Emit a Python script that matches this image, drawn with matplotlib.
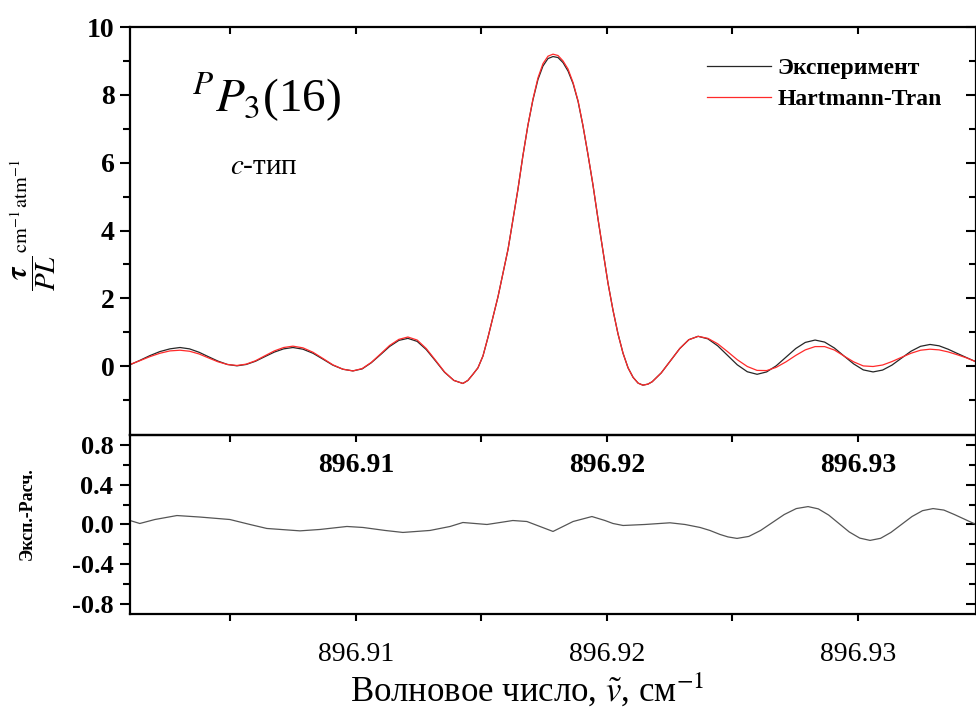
import numpy as np
import matplotlib
matplotlib.use("Agg")
import matplotlib.pyplot as plt
from matplotlib.ticker import MultipleLocator, FixedLocator, FormatStrFormatter

plt.rcParams['font.family'] = ['Liberation Serif', 'DejaVu Serif']
plt.rcParams['mathtext.fontset'] = 'stix'

# wavenumber grid (cm-1) for the two spectra
nu = [896.90100, 896.90139, 896.90179, 896.90219, 896.90259, 896.90299, 896.90337,
      896.90375, 896.90412, 896.90450, 896.90488, 896.90526, 896.90563, 896.90600,
      896.90637, 896.90675, 896.90712, 896.90749, 896.90789, 896.90829, 896.90869,
      896.90908, 896.90948, 896.90988, 896.91025, 896.91061, 896.91098, 896.91134,
      896.91171, 896.91207, 896.91244, 896.91280, 896.91317, 896.91353, 896.91390,
      896.91426,
      896.91446, 896.91466, 896.91486, 896.91506, 896.91526, 896.91546, 896.91566,
      896.91586, 896.91606, 896.91625, 896.91645, 896.91665, 896.91685, 896.91705,
      896.91725, 896.91745, 896.91765, 896.91785, 896.91805, 896.91825, 896.91845,
      896.91865, 896.91885, 896.91904, 896.91924, 896.91944, 896.91964, 896.91984,
      896.92004, 896.92024, 896.92044, 896.92064, 896.92084, 896.92104, 896.92124,
      896.92143, 896.92163,
      896.92180, 896.92216, 896.92253, 896.92290, 896.92326, 896.92363, 896.92402,
      896.92441, 896.92480, 896.92519, 896.92559, 896.92598, 896.92636, 896.92674,
      896.92713, 896.92752, 896.92790, 896.92829, 896.92867, 896.92906, 896.92944,
      896.92983, 896.93021, 896.93060, 896.93098, 896.93135, 896.93173, 896.93211,
      896.93249, 896.93287, 896.93323, 896.93359, 896.93394, 896.93430, 896.93470]

experiment = [0.04, 0.17, 0.31, 0.43, 0.51, 0.55, 0.51,
              0.41, 0.28, 0.15, 0.05, 0.01, 0.05, 0.145,
              0.28, 0.415, 0.51, 0.55, 0.50, 0.38, 0.205,
              0.03, -0.09, -0.14, -0.08, 0.10, 0.34, 0.58,
              0.76, 0.82, 0.73, 0.49, 0.155, -0.18, -0.42,
              -0.51,
              -0.42, -0.24, -0.05, 0.30, 0.85, 1.45, 2.05,
              2.75, 3.45, 4.30, 5.20, 6.20, 7.10, 7.85,
              8.45, 8.85, 9.07, 9.13, 9.10, 8.95, 8.70,
              8.33, 7.80, 7.10, 6.25, 5.35, 4.35, 3.40,
              2.45, 1.65, 0.95, 0.38, -0.05, -0.33, -0.50,
              -0.56, -0.53,
              -0.46, -0.20, 0.16, 0.52, 0.78, 0.88, 0.805,
              0.60, 0.32, 0.04, -0.165, -0.24, -0.17, 0.01,
              0.265, 0.52, 0.70, 0.77, 0.71, 0.535, 0.30,
              0.065, -0.11, -0.17, -0.115, 0.03, 0.235, 0.44,
              0.585, 0.64, 0.60, 0.50, 0.38, 0.26, 0.13]

hartmann_tran = [0.05, 0.16, 0.28, 0.38, 0.45, 0.47, 0.44,
                 0.36, 0.245, 0.13, 0.05, 0.02, 0.06, 0.16,
                 0.305, 0.45, 0.55, 0.59, 0.54, 0.41, 0.225,
                 0.04, -0.09, -0.14, -0.07, 0.11, 0.36, 0.61,
                 0.79, 0.86, 0.77, 0.52, 0.175, -0.17, -0.42,
                 -0.51,
                 -0.42, -0.24, -0.05, 0.30, 0.85, 1.45, 2.05,
                 2.75, 3.45, 4.30, 5.20, 6.20, 7.10, 7.87,
                 8.50, 8.92, 9.14, 9.20, 9.16, 9.00, 8.76,
                 8.36, 7.82, 7.11, 6.26, 5.36, 4.36, 3.40,
                 2.45, 1.65, 0.95, 0.38, -0.05, -0.33, -0.50,
                 -0.56, -0.53,
                 -0.46, -0.20, 0.16, 0.52, 0.78, 0.88, 0.82,
                 0.66, 0.43, 0.19, -0.01, -0.125, -0.13, -0.035,
                 0.127, 0.317, 0.48, 0.577, 0.577, 0.475, 0.30,
                 0.126, 0.007, -0.01, 0.034, 0.135, 0.26, 0.38,
                 0.47, 0.50, 0.48, 0.42, 0.34, 0.25, 0.13]

# residual (experiment - calculation)
nu_res = [896.90100, 896.90139, 896.90199, 896.90287, 896.90378, 896.90498, 896.90578,
          896.90645, 896.90777, 896.90857, 896.90964, 896.91028, 896.91116, 896.91187,
          896.91295, 896.91375, 896.91426, 896.91522, 896.91574, 896.91625, 896.91681,
          896.91733, 896.91785, 896.91825, 896.91865, 896.91940, 896.91992, 896.92024,
          896.92064, 896.92151, 896.92251, 896.92311, 896.92371, 896.92410, 896.92450,
          896.92482, 896.92518, 896.92565, 896.92612, 896.92659, 896.92706, 896.92754,
          896.92801, 896.92842, 896.92883, 896.92924, 896.92965, 896.93007, 896.93048,
          896.93090, 896.93131, 896.93173, 896.93215, 896.93257, 896.93299, 896.93342,
          896.93384, 896.93427, 896.93470]
residual = [0.04, 0.01, 0.05, 0.09, 0.075, 0.05, 0.00,
            -0.04, -0.064, -0.05, -0.02, -0.03, -0.06, -0.08,
            -0.06, -0.02, 0.02, 0.00, 0.02, 0.04, 0.03,
            -0.02, -0.07, -0.02, 0.03, 0.08, 0.04, 0.01,
            -0.01, 0.00, 0.017, 0.00, -0.03, -0.06, -0.10,
            -0.125, -0.14, -0.12, -0.06, 0.02, 0.10, 0.16,
            0.18, 0.157, 0.095, 0.01, -0.075, -0.137, -0.16,
            -0.139, -0.08, 0.00, 0.08, 0.139, 0.16, 0.145,
            0.10, 0.05, 0.00]

legend_labels = ['Эксперимент', 'Hartmann-Tran']
y_major = [0, 2, 4, 6, 8, 10]
y_minor = [-1, 1, 3, 5, 7, 9]

fig = plt.figure(figsize=(9.76, 7.15), dpi=100)
ax1 = fig.add_axes([0.1332, 0.3916, 0.8668, 0.5706])
ax2 = fig.add_axes([0.1332, 0.1413, 0.8668, 0.2503])
ax2.patch.set_alpha(0)

ax1.plot(nu, experiment, color='#262626', lw=0.9, label=legend_labels[0])
ax1.plot(nu, hartmann_tran, color='#ff2a2a', lw=0.9, label=legend_labels[1])
ax2.plot(nu_res, residual, color='#555555', lw=0.9)

for ax in (ax1, ax2):
    ax.set_xlim(896.901, 896.9347)
    ax.xaxis.set_major_locator(MultipleLocator(0.01))
    ax.xaxis.set_minor_locator(MultipleLocator(0.005))
    ax.xaxis.set_major_formatter(FormatStrFormatter('%.2f'))
    for s in ax.spines.values():
        s.set_linewidth(1.6)

ax1.set_ylim(-2.03, 10)
ax1.yaxis.set_major_locator(FixedLocator(y_major))
ax1.yaxis.set_minor_locator(FixedLocator(y_minor))
ax1.tick_params(axis='y', which='both', direction='out', left=True, right=True,
                labelright=False, labelsize=20, width=1.5, pad=4)
ax1.tick_params(axis='y', which='major', length=7)
ax1.tick_params(axis='y', which='minor', length=5)
ax1.tick_params(axis='x', which='both', direction='out', bottom=True, top=True,
                labeltop=False, labelsize=20, width=1.5, length=5, pad=8)
for lab in ax1.get_xticklabels() + ax1.get_yticklabels():
    lab.set_fontweight('bold')
# top and right ticks point inward
for t in ax1.xaxis.get_major_ticks() + ax1.xaxis.get_minor_ticks():
    t.tick2line.set_marker(3)
for t in ax1.yaxis.get_major_ticks() + ax1.yaxis.get_minor_ticks():
    t.tick2line.set_marker(0)

ax2.set_ylim(-0.9, 0.9)
ax2.yaxis.set_major_locator(MultipleLocator(0.4))
ax2.yaxis.set_minor_locator(MultipleLocator(0.2))
ax2.yaxis.set_major_formatter(FormatStrFormatter('%.1f'))
ax2.tick_params(axis='y', which='both', direction='out', right=True, labelright=False,
                labelsize=19, width=1.5, pad=5)
ax2.tick_params(axis='y', which='major', length=7)
ax2.tick_params(axis='y', which='minor', length=5)
ax2.tick_params(axis='x', which='both', direction='out', labelsize=20,
                width=1.5, length=5, pad=15)
for t in ax2.yaxis.get_major_ticks() + ax2.yaxis.get_minor_ticks():
    t.tick2line.set_marker(0)
for lab in ax2.get_yticklabels():
    lab.set_fontweight('bold')

ax1.set_ylabel(r'$\dfrac{\boldsymbol{\tau}}{PL}$' + r'$^{\mathrm{cm^{-1}\,atm^{-1}}}$',
               fontsize=21)
ax1.yaxis.set_label_coords(-0.085, 0.515)
ax2.set_ylabel('Эксп.-Расч.', fontsize=13, fontweight='bold')
ax2.yaxis.set_label_coords(-0.111, 0.56)
ax2.set_xlabel(r'Волновое число, $\tilde{v}$, см$^{-1}$', fontsize=25)
ax2.xaxis.set_label_coords(0.469, -0.43)
ax2.xaxis.label.set_va('center')

ax1.text(0.073, 0.792, r'$^{P}P_{3}$(16)', transform=ax1.transAxes,
         fontsize=34, va='baseline', ha='left')
ax1.text(0.118, 0.657, r'$c$-тип', transform=ax1.transAxes,
         fontsize=21, va='center', ha='left')

leg = ax1.legend(loc='upper left', bbox_to_anchor=(0.7244, 0.9195),
                 bbox_transform=fig.transFigure, frameon=False, fontsize=17,
                 handlelength=2.7, handletextpad=0.3, labelspacing=0.4,
                 borderpad=0, borderaxespad=0)
for txt in leg.get_texts():
    txt.set_fontweight('bold')

fig.savefig('out.png', dpi=100)
